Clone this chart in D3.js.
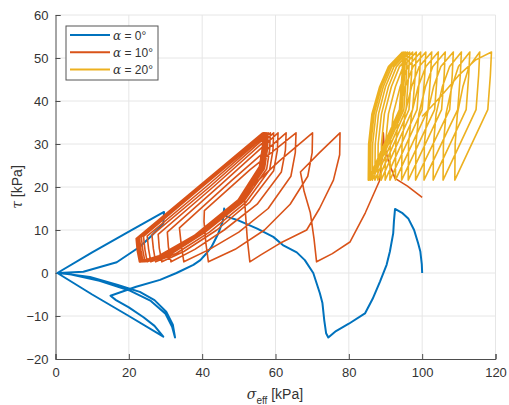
<!DOCTYPE html>
<html>
<head>
<meta charset="utf-8">
<script src="https://cdn.jsdelivr.net/npm/d3@7"></script>
<style>
  body { margin: 0; background: #fff; }
  svg { display: block; font-family: "Liberation Sans", Arial, sans-serif; }
</style>
</head>
<body>
<svg id="chart" width="509" height="405"></svg>
<script>
// Stress paths [sigma_eff, tau] in kPa.
const pathAlpha0 = [
  [100,0],[99.9,2],[99.5,5],[98.9,6.9],[97.8,10],[96.2,12.7],[94.5,14],[92.6,14.9],
  [92.3,12],[92.1,9.2],[91.2,5],[90.3,1.9],[88.5,-2],[86.5,-6],[84.4,-9.4],[80,-11.8],[76.5,-13.5],[74.4,-15],
  [73.8,-14],[73.3,-11],[72.8,-7],[72.1,-4.7],[70.3,0],[68,3],[65.8,4.8],[62,6.5],[59.4,8.4],[55,10.3],[50,12.2],[46.7,13.1],[46,15],
  [45.6,12],[44.4,9.2],[42.5,6],[41.2,4.6],[39.5,3],[37.6,1.9],[33,0],[28.5,-1.6],[22,-3.2],[15,-5.3],
  [16.5,-6.3],[20,-8],[24,-10.3],[27,-12.3],[29.4,-14.8],
  [20,-10],[10,-5],[0.5,0],
  [10,4.8],[20,9.6],[29.6,14.2],
  [29.4,11.5],[26,8.5],[23,6.1],[16.7,2.5],[7.6,0.3],[1,0],
  [9.4,-0.9],[17,-2.8],[23,-4.4],[27,-6.3],[30.2,-9],[32,-12],[32.6,-15],
  [31.8,-12.5],[30,-9.5],[26,-6.5],[20,-4],[12,-1.8],[4,-0.3],[0.5,0]
];

const pathAlpha10 = [
  [100,17.6],[96,20.2],[92.6,22],[90.8,26],[89.6,30],[89.4,32.6],
  [89.2,28],[88.4,21.5],[84.5,14],[80.3,7.2],[75.5,4.5],[71.2,2.6],
  [70.5,8],[69.5,14],[67.8,19],[66.8,23.5],[72,28],[77.6,32.6],
  [77.5,27.5],[75.8,21.6],[72,15],[68.5,10],[61.2,6.9],[56,4.2],[53,2.6],
  [52.3,8],[51.8,14],[51.5,18.5],[61,26],[70.1,32.6],
  [70,28],[68.8,22.5],[64,16],[57,10],[49,5.5],[41.7,2.6],
  [41,7],[40.5,12],[40.6,14.5],[53,24],[65.6,32.6],
  [65.4,28],[64.2,22.5],[58,15],[50,9.5],[42,5.5],[35,2.6],
  [34.3,6.5],[33.8,10.5],[48,21.5],[62.9,32.6],
  [62.7,28.5],[61.6,23.5],[55,16],[46,10],[38,5.5],[31.5,2.6],
  [30.8,6],[30.5,9.5],[45,20.5],[60.7,32.6],
  [60.5,28.5],[59.5,23.8],[53,16.5],[44,10],[35,5],[29,2.6],
  [28.3,5.8],[28,9],[43,20],[59.5,32.6],
  [59.3,28.5],[58.4,24],[52,16.5],[42,9.5],[33,4.6],[27.3,2.6],
  [26.7,5.6],[26.3,8.8],[42,20],[58.6,32.6],
  [58.4,28.7],[57.6,24.2],[51.5,16.8],[41,9.6],[31.5,4.4],[26,2.6],
  [25.4,5.5],[25,8.6],[41,20],[58,32.6],
  [57.8,28.8],[57,24.3],[51,16.8],[40,9.3],[30.5,4.3],[25,2.6],
  [24.4,5.4],[24,8.5],[40,20],[57.6,32.6],
  [57.4,28.8],[56.6,24.4],[50.8,16.8],[39.5,9.2],[29.8,4.2],[24.4,2.6],
  [23.8,5.4],[23.4,8.4],[39.5,20],[57.3,32.6],
  [57.1,28.9],[56.3,24.5],[50.5,16.9],[39,9.1],[29.3,4.2],[23.9,2.6],
  [23.3,5.3],[22.9,8.3],[39,19.8],[57.1,32.6],
  [56.9,28.9],[56.1,24.5],[50.3,16.9],[38.8,9],[29,4.1],[23.6,2.6],
  [23,5.3],[22.6,8.2],[38.8,19.7],[56.9,32.6],
  [56.7,29],[55.9,24.6],[50.1,17],[38.6,9],[28.7,4.1],[23.3,2.6],
  [22.7,5.2],[22.4,8.1],[38.6,19.6],[56.8,32.6],
  [56.6,29],[55.8,24.6],[50,17],[38.4,8.9],[28.5,4],[23.1,2.6],
  [22.5,5.2],[22.2,8],[38.4,19.5],[56.7,32.6],
  [56.5,29],[55.7,24.7],[49.9,17],[38.2,8.9],[28.3,4],[23,2.6],
  [22.4,5.2],[22.1,8],[38.2,19.5],[56.6,32.6],
  [56.4,29],[55.6,24.7],[49.8,17],[38,8.8],[28.2,4],[22.9,2.6],
  [22.3,5.2],[22,8],[38,19.4],[56.5,32.6]
];

const pathAlpha20 = [
  [100,36.4],[105,41],[110,46],[114.5,49.5],[118.9,51.4],
  [118.6,46],[117.9,38],[108.9,21.6],
  [109,30],[109.6,37],[111.1,43.3],[112.8,48],[115.7,51.4],
  [115.4,46],[114.7,38],[105.7,21.6],
  [105.8,30],[106.5,37],[108.1,43.3],[109.9,48],[113,51.4],
  [112.7,46],[112,38],[103,21.6],
  [103.1,30],[103.8,37],[105.5,43.3],[107.5,48],[110.7,51.4],
  [110.4,46],[109.7,38],[100.5,21.6],
  [100.6,30],[101.4,37],[103.1,43.3],[105.1,48],[108.5,51.4],
  [108.2,46],[107.5,38],[98.2,21.6],
  [98.3,30],[99.1,37],[100.9,43.3],[102.9,48],[106.3,51.4],
  [106,46],[105.3,38],[96.2,21.6],
  [96.3,30],[97.1,37],[98.9,43.3],[101,48],[104.4,51.4],
  [104.1,46],[103.4,38],[94.4,21.6],
  [94.5,30],[95.3,37],[97.1,43.3],[99.2,48],[102.6,51.4],
  [102.3,46],[101.6,38],[92.7,21.6],
  [92.8,30],[93.6,37],[95.4,43.3],[97.5,48],[101,51.4],
  [100.7,46],[100,38],[91.2,21.6],
  [91.3,30],[92.1,37],[94,43.3],[96.1,48],[99.6,51.4],
  [99.3,46],[98.6,38],[89.9,21.6],
  [90,30],[90.8,37],[92.7,43.3],[94.8,48],[98.4,51.4],
  [98.1,46],[97.4,38],[88.8,21.6],
  [88.9,30],[89.7,37],[91.6,43.3],[93.8,48],[97.4,51.4],
  [97.1,46],[96.4,38],[87.9,21.6],
  [88,30],[88.9,37],[90.8,43.3],[93,48],[96.6,51.4],
  [96.3,46],[95.6,38],[87.1,21.6],
  [87.2,30],[88.1,37],[90,43.3],[92.3,48],[96,51.4],
  [95.7,46],[95,38],[86.4,21.6],
  [86.5,30],[87.4,37],[89.4,43.3],[91.7,48],[95.5,51.4],
  [95.2,46],[94.5,38],[85.9,21.6],
  [86,30],[86.9,37],[88.9,43.3],[91.2,48],[95.1,51.4],
  [94.8,46],[94.1,38],[85.5,21.6],
  [85.6,30],[86.5,37],[88.6,43.3],[91,48],[94.8,51.4],
  [94.5,46],[93.8,38],[85.3,21.6],
  [85.4,30],[86.3,37],[88.4,43.3],[90.8,48],[94.6,51.4]
];

const seriesLabels = ["0°", "10°", "20°"];
const seriesColors = ["#0072BD", "#D95319", "#EDB120"];
const xTicks = [0, 20, 40, 60, 80, 100, 120];
const yTicks = [-20, -10, 0, 10, 20, 30, 40, 50, 60];

const svg = d3.select("#chart");
const plot = { left: 55.5, right: 495.5, top: 15, bottom: 359 };

const x = d3.scaleLinear().domain([0, 120]).range([plot.left, plot.right]);
const y = d3.scaleLinear().domain([-20, 60]).range([plot.bottom, plot.top]);

// Grid lines.
const grid = svg.append("g").attr("stroke", "#e6e6e6").attr("stroke-width", 1);
grid.selectAll(".gx").data(xTicks.slice(1)).enter().append("line")
  .attr("x1", d => x(d)).attr("x2", d => x(d))
  .attr("y1", plot.top).attr("y2", plot.bottom);
grid.selectAll(".gy").data(yTicks.slice(1)).enter().append("line")
  .attr("x1", plot.left).attr("x2", plot.right)
  .attr("y1", d => y(d)).attr("y2", d => y(d));

// Axes, ticks pointing inward like MATLAB.
const xAxis = d3.axisBottom(x).tickValues(xTicks).tickSize(-5).tickPadding(9);
const yAxis = d3.axisLeft(y).tickValues(yTicks).tickSize(-5).tickPadding(7);

const gx = svg.append("g").attr("transform", `translate(0,${plot.bottom})`).call(xAxis);
const gy = svg.append("g").attr("transform", `translate(${plot.left},0)`).call(yAxis);
[gx, gy].forEach(g => {
  g.select(".domain").attr("stroke", "#4d4d4d");
  g.selectAll(".tick line").attr("stroke", "#4d4d4d");
  g.selectAll(".tick text").attr("fill", "#333").style("font-size", "13px")
    .style("font-family", "'Liberation Sans', Arial, sans-serif");
});

// Stress paths.
const line = d3.line().x(d => x(d[0])).y(d => y(d[1]));
const paths = [pathAlpha0, pathAlpha10, pathAlpha20];
svg.append("g").selectAll("path").data(paths).enter().append("path")
  .attr("d", d => line(d))
  .attr("fill", "none")
  .attr("stroke", (d, i) => seriesColors[i])
  .attr("stroke-width", (d, i) => i === 0 ? 2 : 1.6)
  .attr("stroke-linejoin", "round");

// Axis labels.
const xLabel = svg.append("text").attr("x", 275).attr("y", 399)
  .attr("text-anchor", "middle").attr("fill", "#333").style("font-size", "14px");
xLabel.append("tspan").text("σ").style("font-family", "'DejaVu Serif', serif").style("font-style", "italic");
xLabel.append("tspan").text("eff").attr("dy", 5).style("font-size", "10px");
xLabel.append("tspan").text(" [kPa]").attr("dy", -5);

const yLabel = svg.append("text")
  .attr("transform", `translate(22,${(plot.top + plot.bottom) / 2}) rotate(-90)`)
  .attr("text-anchor", "middle").attr("fill", "#333").style("font-size", "14px");
yLabel.append("tspan").text("τ").style("font-family", "'DejaVu Serif', serif").style("font-style", "italic");
yLabel.append("tspan").text(" [kPa]");

// Legend.
const legend = svg.append("g");
legend.append("rect").attr("x", 66).attr("y", 26).attr("width", 92).attr("height", 54)
  .attr("fill", "#fff").attr("stroke", "#555").attr("stroke-width", 1);
const rows = legend.selectAll(".row").data(seriesLabels).enter().append("g")
  .attr("transform", (d, i) => `translate(0,${35 + i * 17.3})`);
rows.append("line").attr("x1", 70).attr("x2", 110).attr("y1", 0).attr("y2", 0)
  .attr("stroke", (d, i) => seriesColors[i]).attr("stroke-width", 2);
const rowText = rows.append("text").attr("x", 113).attr("y", 4.5)
  .attr("fill", "#333").style("font-size", "12px");
rowText.append("tspan").text("α").style("font-family", "'DejaVu Serif', serif").style("font-style", "italic");
rowText.append("tspan").text(d => " = " + d);
</script>
</body>
</html>
